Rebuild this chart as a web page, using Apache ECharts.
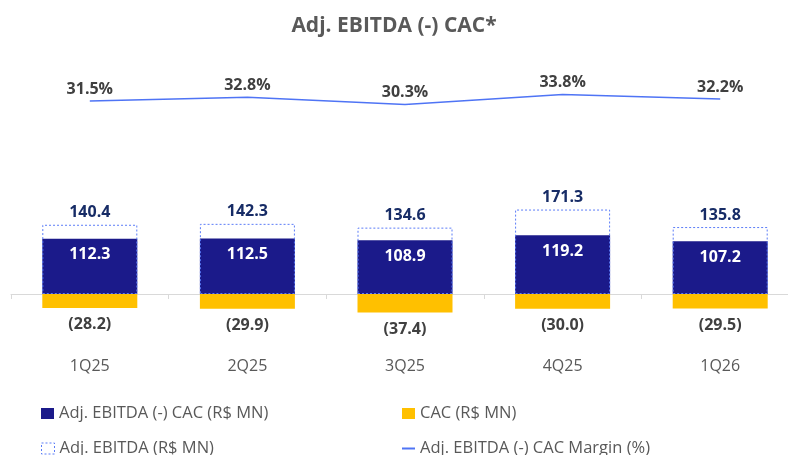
<!DOCTYPE html>
<html>
<head>
<meta charset="utf-8">
<script src="https://cdn.jsdelivr.net/npm/echarts@6/dist/echarts.min.js"></script>
<style>
  html, body { margin: 0; padding: 0; background: #fff; }
  #chart { width: 788px; height: 455px; }
</style>
</head>
<body>
<div id="chart"></div>
<script>
// dados
const quarters = ['1Q25', '2Q25', '3Q25', '4Q25', '1Q26'];
const ebitdaLessCac = [112.3, 112.5, 108.9, 119.2, 107.2];
const cac = [-28.2, -29.9, -37.4, -30.0, -29.5];
const adjEbitda = [140.4, 142.3, 134.6, 171.3, 135.8];
const marginPct = [31.5, 32.8, 30.3, 33.8, 32.2];

const FONT = '"Open Sans", sans-serif';
const chart = echarts.init(document.getElementById('chart'));

const legendText = { fontFamily: FONT, fontSize: 16.5, color: '#595959' };
function legendBox(item, left, top, extra) {
  return Object.assign({
    left: left,
    top: top,
    icon: 'rect',
    itemWidth: 13,
    itemHeight: 11,
    textStyle: legendText,
    data: [item]
  }, extra || {});
}

const option = {
  animation: false,
  title: {
    text: 'Adj. EBITDA (-) CAC*',
    left: 'center',
    top: 11,
    textStyle: { fontFamily: FONT, fontSize: 21, fontWeight: 'bold', color: '#595959' }
  },
  legend: [
    legendBox('Adj. EBITDA (-) CAC (R$ MN)', 36, 400),
    legendBox({
      name: 'Adj. EBITDA (R$ MN)',
      itemStyle: { color: 'rgba(0,0,0,0)', borderColor: '#5b7cf7', borderWidth: 1, borderType: [2, 2] }
    }, 36, 435),
    legendBox('CAC (R$ MN)', 397, 400),
    legendBox('Adj. EBITDA (-) CAC Margin (%)', 397, 435, { itemHeight: 2 })
  ],
  // eixo x na base da grade (linha do zero)
  grid: { left: 11, right: -11, top: 40, bottom: 161, outerBoundsMode: 'none', containLabel: false },
  xAxis: {
    type: 'category',
    data: quarters,
    axisLine: { lineStyle: { color: '#d9d9d9' } },
    axisTick: { show: true, length: 5, lineStyle: { color: '#d9d9d9' } },
    axisLabel: { margin: 64, fontFamily: FONT, fontSize: 16, color: '#595959' }
  },
  yAxis: [
    { type: 'value', min: 0, max: 515.2, show: false },
    { type: 'value', min: -35.5, max: 52.7, show: false }
  ],
  series: [
    {
      name: 'Adj. EBITDA (-) CAC (R$ MN)',
      type: 'bar',
      stack: 'total',
      barWidth: 95,
      clip: false,
      data: ebitdaLessCac,
      itemStyle: { color: '#1b1a8a' },
      label: {
        show: true,
        position: 'insideTop',
        distance: 8,
        fontFamily: FONT,
        fontSize: 16,
        fontWeight: 'bold',
        color: '#ffffff',
        formatter: (p) => p.value.toFixed(1)
      }
    },
    {
      name: 'CAC (R$ MN)',
      type: 'bar',
      stack: 'total',
      barWidth: 95,
      clip: false,
      data: cac,
      itemStyle: { color: '#ffc000' },
      label: {
        show: true,
        position: 'bottom',
        distance: 9,
        fontFamily: FONT,
        fontSize: 16,
        fontWeight: 'bold',
        color: '#404040',
        formatter: (p) => '(' + Math.abs(p.value).toFixed(1) + ')'
      }
    },
    {
      name: 'Adj. EBITDA (R$ MN)',
      type: 'bar',
      barWidth: 95,
      barGap: '-100%',
      clip: false,
      data: adjEbitda,
      z: 3,
      itemStyle: {
        color: 'rgba(0,0,0,0)',
        borderColor: '#5b7cf7',
        borderWidth: 1,
        borderType: [2, 2]
      },
      label: {
        show: true,
        position: 'top',
        distance: 4,
        fontFamily: FONT,
        fontSize: 16,
        fontWeight: 'bold',
        color: '#172c66',
        formatter: (p) => p.value.toFixed(1)
      }
    },
    {
      name: 'Adj. EBITDA (-) CAC Margin (%)',
      type: 'line',
      yAxisIndex: 1,
      data: marginPct,
      symbol: 'circle',
      symbolSize: 0.1,
      showSymbol: true,
      clip: false,
      lineStyle: { color: '#4f74f5', width: 1.5 },
      itemStyle: { color: '#4f74f5' },
      label: {
        show: true,
        position: 'top',
        distance: 4,
        fontFamily: FONT,
        fontSize: 16,
        fontWeight: 'bold',
        color: '#404040',
        formatter: (p) => p.value.toFixed(1) + '%'
      }
    }
  ]
};

chart.setOption(option);
</script>
</body>
</html>
